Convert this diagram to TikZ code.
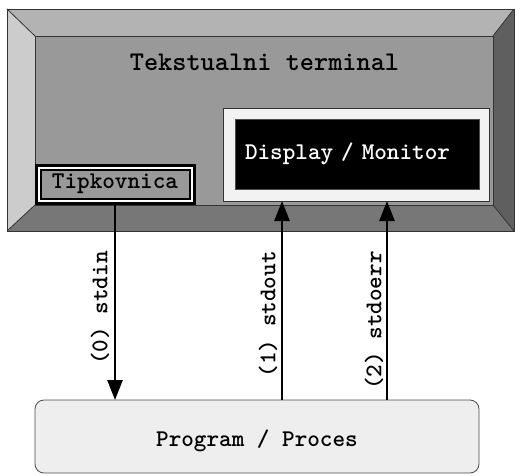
\documentclass[tikz,border=0pt]{standalone}
\usepackage{fontspec}
\usetikzlibrary{arrows.meta,calc}
\definecolor{face}{HTML}{999999}
\definecolor{bevtop}{HTML}{B3B3B3}
\definecolor{bevleft}{HTML}{CCCCCC}
\definecolor{bevright}{HTML}{5F5F5F}
\definecolor{bevbot}{HTML}{777777}
\definecolor{progfill}{HTML}{EEEEEE}
\definecolor{dispfill}{HTML}{F2F2F2}
\tikzset{
  mono/.style={font=\ttfamily\bfseries\fontsize{24}{28}\selectfont},
  box/.style={inner sep=0pt, outer sep=0pt},
  bev/.style={draw=black!80, line width=0.8pt, line join=miter},
  arr/.style={line width=2.7pt, -{Triangle[length=20pt,width=15pt]}},
  lab/.style={mono, rotate=90, anchor=east, inner sep=0pt},
}
\begin{document}
\begin{tikzpicture}[x=1pt,y=-1pt]
\useasboundingbox (0,0) rectangle (515,475);
% bevel of the terminal
\fill[bevtop]   (7,9) -- (514,9) -- (493,36) -- (35,36) -- cycle;
\fill[bevleft]  (7,9) -- (35,36) -- (35,205) -- (7,231) -- cycle;
\fill[bevright] (514,9) -- (514,231) -- (493,205) -- (493,36) -- cycle;
\fill[bevbot]   (7,231) -- (35,205) -- (493,205) -- (514,231) -- cycle;
\draw[bev] (7,9) rectangle (514,231);
\draw[bev] (7,9) -- (35,36) (514,9) -- (493,36) (514,231) -- (493,205) (7,231) -- (35,205);
\node[box, draw=black!80, line width=0.8pt, fill=face, minimum width=458pt, minimum height=169pt] (term) at (264,120.5) {};
\node[mono, font=\ttfamily\bfseries\fontsize{27}{31}\selectfont] (title) at (264.5,62) {Tekstualni terminal};
% keyboard
\node[box, draw=black, line width=3pt, fill=white, minimum width=158pt, minimum height=38pt] (kbdout) at (115,184) {};
\node[box, mono, draw=black, line width=2pt, fill=face, minimum width=149pt, minimum height=29pt] (kbd) at (115,184) {Tipkovnica};
% display
\node[box, draw=black!80, line width=0.8pt, fill=dispfill, minimum width=266pt, minimum height=93pt] (disp) at (356,154.5) {};
\node[box, mono, text=white, draw=black!70, line width=0.8pt, fill=black, minimum width=244pt, minimum height=70pt, inner xsep=10pt, text width=224pt, align=left] (mon) at (357,154) {Display / Monitor};
% program
\node[box, draw=black!70, line width=0.8pt, fill=progfill, rounded corners=9pt, minimum width=444pt, minimum height=73pt,
      label={[mono, yshift=-4pt]center:Program / Proces}] (prog) at (257,436.5) {};
% connectors
\coordinate (o1) at ([xshift=-74pt]disp.south);
\coordinate (o2) at ([xshift=31pt]disp.south);
\draw[arr] (kbdout.south) -- (kbdout.south |- prog.north);
\draw[arr] (o1 |- prog.north) -- (o1);
\draw[arr] (o2 |- prog.north) -- (o2);
% labels
\node[lab] (l0) at (100,251) {(0) stdin};
\node[lab] (l1) at (268,251) {(1) stdout};
\node[lab] (l2) at (374,251) {(2) stdoerr};
\end{tikzpicture}
\end{document}
